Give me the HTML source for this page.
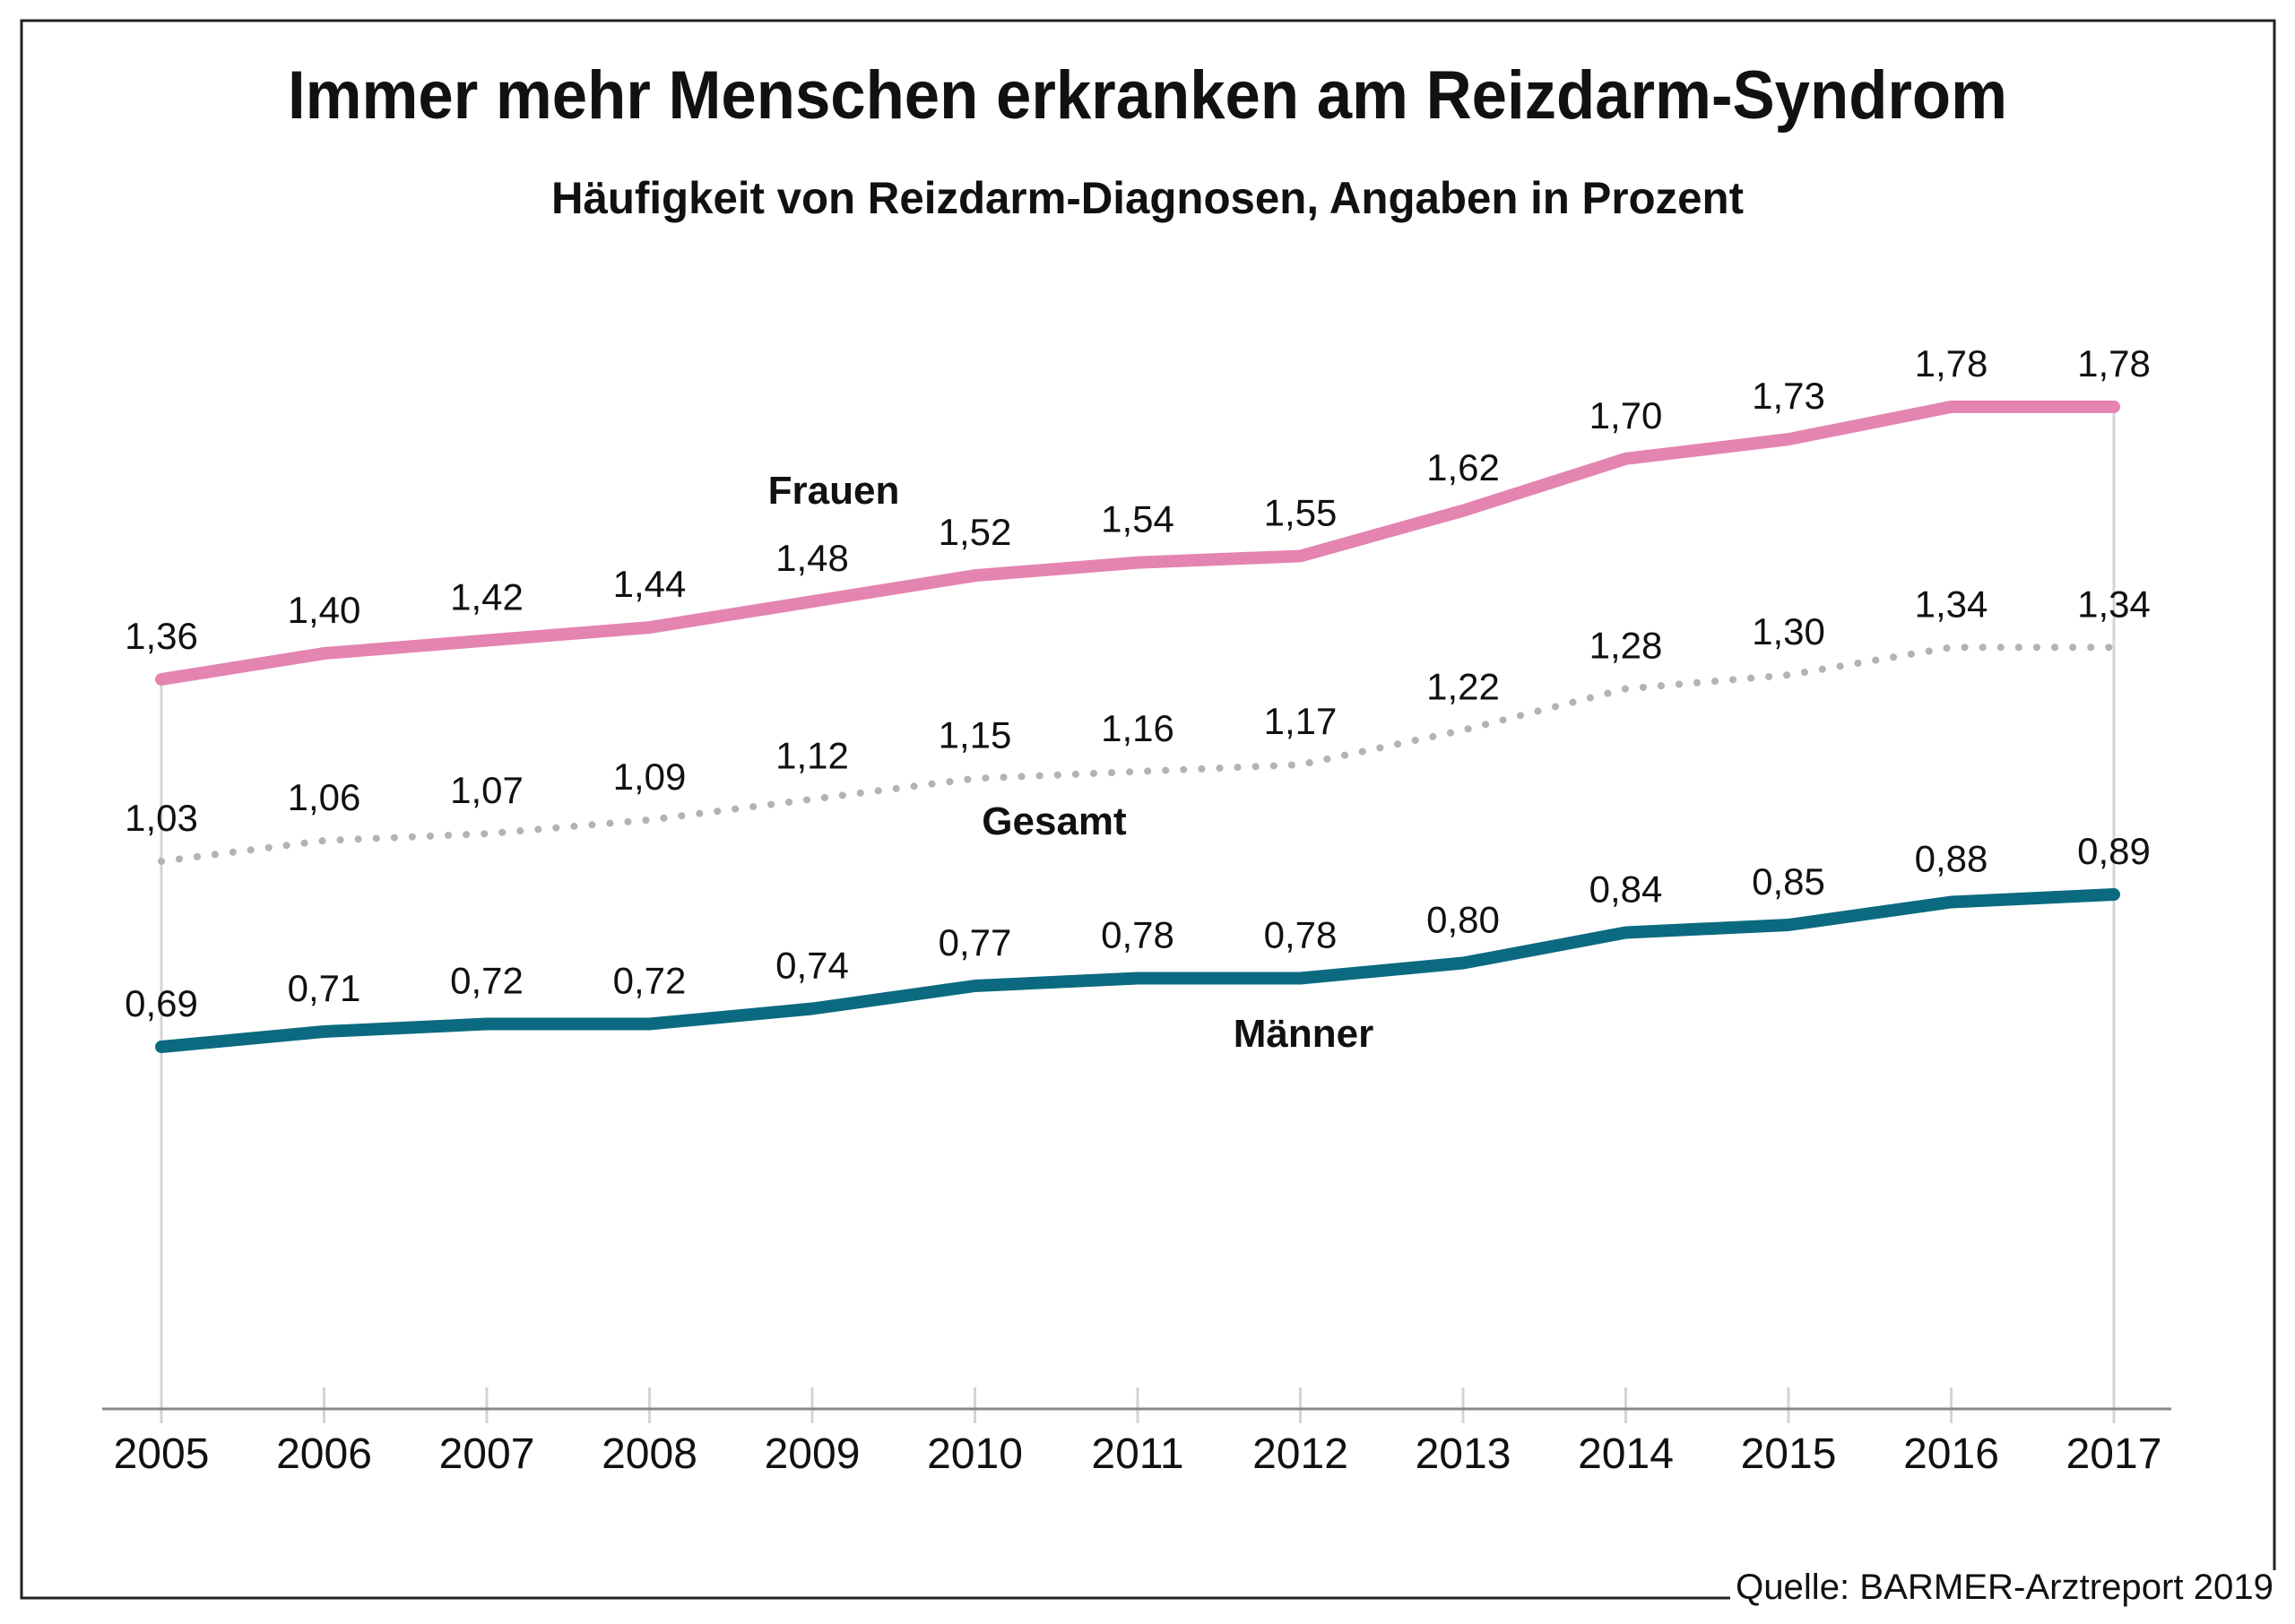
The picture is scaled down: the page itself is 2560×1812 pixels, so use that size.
<!DOCTYPE html>
<html><head><meta charset="utf-8"><style>
html,body{margin:0;padding:0;background:#fff}
svg{display:block;font-family:"Liberation Sans Narrow","Liberation Sans",sans-serif}
</style></head><body>
<svg id="chart" width="2560" height="1812" viewBox="0 0 2560 1812" xmlns="http://www.w3.org/2000/svg">
<polyline points="1930,1783 24,1783 24,23 2537,23 2537,1752" fill="none" stroke="#222" stroke-width="3"/>
<text x="1280" y="132" text-anchor="middle" font-size="76" font-weight="bold" fill="#111" textLength="1918" lengthAdjust="spacingAndGlyphs">Immer mehr Menschen erkranken am Reizdarm-Syndrom</text>
<text x="1280" y="238" text-anchor="middle" font-size="50" font-weight="bold" fill="#111" textLength="1330" lengthAdjust="spacingAndGlyphs">Häufigkeit von Reizdarm-Diagnosen, Angaben in Prozent</text>
<g id="grid"></g>
<line x1="114" y1="1572" x2="2422" y2="1572" stroke="#888" stroke-width="3"/>
<g id="marks"></g>
<text x="2536" y="1784" text-anchor="end" font-size="40" fill="#111" textLength="600" lengthAdjust="spacingAndGlyphs">Quelle: BARMER-Arztreport 2019</text>
</svg>
<script>
const years = ["2005","2006","2007","2008","2009","2010","2011","2012","2013","2014","2015","2016","2017"];
const frauen = [1.36,1.40,1.42,1.44,1.48,1.52,1.54,1.55,1.62,1.70,1.73,1.78,1.78];
const gesamt = [1.03,1.06,1.07,1.09,1.12,1.15,1.16,1.17,1.22,1.28,1.30,1.34,1.34];
const maenner = [0.69,0.71,0.72,0.72,0.74,0.77,0.78,0.78,0.80,0.84,0.85,0.88,0.89];

const NS = "http://www.w3.org/2000/svg";
const x = i => 180 + i * (2358 - 180) / (years.length - 1);
const yF = v => 758 - (v - 1.36) * 724;
const yG = v => 961 - (v - 1.03) * 770;
const yM = v => 1168 - (v - 0.69) * 850;
const fmt = v => v.toFixed(2).replace(".", ",");
function mk(tag, attrs, parent, text) {
  const e = document.createElementNS(NS, tag);
  for (const k in attrs) e.setAttribute(k, attrs[k]);
  if (text !== undefined) e.textContent = text;
  parent.appendChild(e);
  return e;
}
const grid = document.getElementById("grid");
const marks = document.getElementById("marks");
years.forEach((yr, i) => {
  const top = i === 0 ? yF(frauen[0]) : (i === years.length - 1 ? yF(frauen[i]) : 1548);
  const g = mk("line", {x1: x(i), x2: x(i), y1: top, y2: 1588, stroke: "#d4d4d4", "stroke-width": 3}, grid);
  
  
  const t = mk("text", {x: x(i), y: 1638, "text-anchor": "middle", "font-size": 48, fill: "#111"}, grid, yr);
  
  
});
function series(data, yf, name, color, dotted) {
  const pts = data.map((v, i) => x(i) + "," + yf(v)).join(" ");
  const attrs = {points: pts, fill: "none", stroke: color, "stroke-width": dotted ? 8 : 14, "stroke-linecap": "round", "stroke-linejoin": "round"};
  if (dotted) attrs["stroke-dasharray"] = "0.1 20";
  const p = mk("polyline", attrs, marks);
  
  
  data.forEach((v, i) => {
    const t = mk("text", {x: x(i), y: yf(v) - 34, "text-anchor": "middle", "font-size": 42, fill: "#111"}, marks, fmt(v));
    
    
  });
}
series(gesamt, yG, "gesamt", "#b3b3b3", true);
series(frauen, yF, "frauen", "#e484b0", false);
series(maenner, yM, "maenner", "#0b6a80", false);
[["Frauen", 930, 562], ["Gesamt", 1176, 931], ["Männer", 1454, 1168]].forEach(([s, lx, ly]) => {
  const t = mk("text", {x: lx, y: ly, "text-anchor": "middle", "font-size": 44, "font-weight": "bold", fill: "#111"}, marks, s);
  
  
});
</script>
</body></html>
